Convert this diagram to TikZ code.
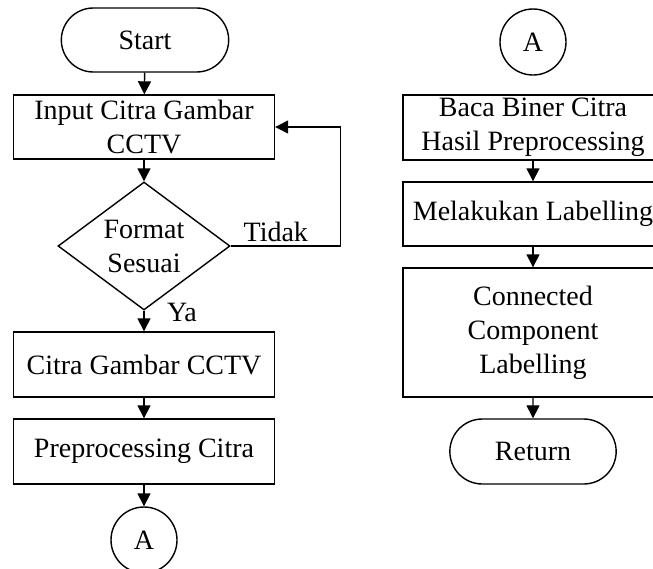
\documentclass[tikz,border=0pt]{standalone}
\usepackage{fontspec}
\setmainfont{Liberation Serif}
\usetikzlibrary{positioning,arrows.meta,shapes}
\tikzset{
    process/.style = {
        draw,
        shape=rectangle,
        minimum height=64pt,
        minimum width=261pt,
        line width=1.4pt,
        inner sep=0pt,
        align=center
    },
    terminal/.style = {
        draw,
        shape=rounded rectangle,
        minimum height=64pt,
        minimum width=174pt,
        line width=1.4pt
    },
    decision/.style = {
        draw,
        shape=diamond,
        aspect=1.34,
        minimum width=172pt,
        minimum height=128pt,
        inner sep=0pt,
        line width=1.4pt,
        align=center
    },
    connector/.style = {
        draw,
        shape=circle,
        minimum size=66pt,
        inner sep=0pt,
        line width=1.4pt
    },
    >={Triangle[length=13pt,width=13pt]},
}
\begin{document}
\begin{tikzpicture}[x=1pt, y=-1pt, line width=1.4pt, font=\fontsize{28}{34}\selectfont]

            \useasboundingbox (0,0) rectangle (653,568);

            % left column
            \node[terminal] (start) at (145,40) {Start};
            \node[process] (input) at (144,127) {Input Citra Gambar\\CCTV};
            \node[decision] (format) at (144,246) {Format\\Sesuai};
            \node[process, minimum height=65pt] (citra) at (144,364.5) {Citra Gambar CCTV};
            \node[process, minimum height=65pt] (prepro) at (144,451.5) {Preprocessing Citra};
            \node[connector] (conA) at (144,540) {A};

            % right column
            \node[connector] (conB) at (533,42) {A};
            \node[process, minimum width=260pt, minimum height=65pt] (baca) at (533,127.5) {Baca Biner Citra\\Hasil Preprocessing};
            \node[process, minimum width=260pt] (label) at (533,214) {Melakukan Labelling};
            \node[process, minimum width=260pt, minimum height=129pt] (ccl) at (533,332.5) {Connected\\Component\\Labelling};
            \node[terminal, minimum width=173pt, minimum height=65pt] (ret) at (533,451.5) {Return};

            \path[draw, ->] (start) -- (input);
            \path[draw, ->] (input) -- (format);
            \path[draw, ->] (format.east) -- node[pos=0.41, above] {Tidak} ++(110,0) |- (input.east);
            \path[draw, ->] (format.south) -- node[pos=0.1, anchor=west, xshift=19pt] {Ya} (citra.north);
            \path[draw, ->] (citra) -- (prepro);
            \path[draw, ->] (prepro) -- (conA);

            \path[draw, ->] (baca) -- (label);
            \path[draw, ->] (label) -- (ccl);
            \path[draw, ->] (ccl) -- (ret);

        \end{tikzpicture}
\end{document}
